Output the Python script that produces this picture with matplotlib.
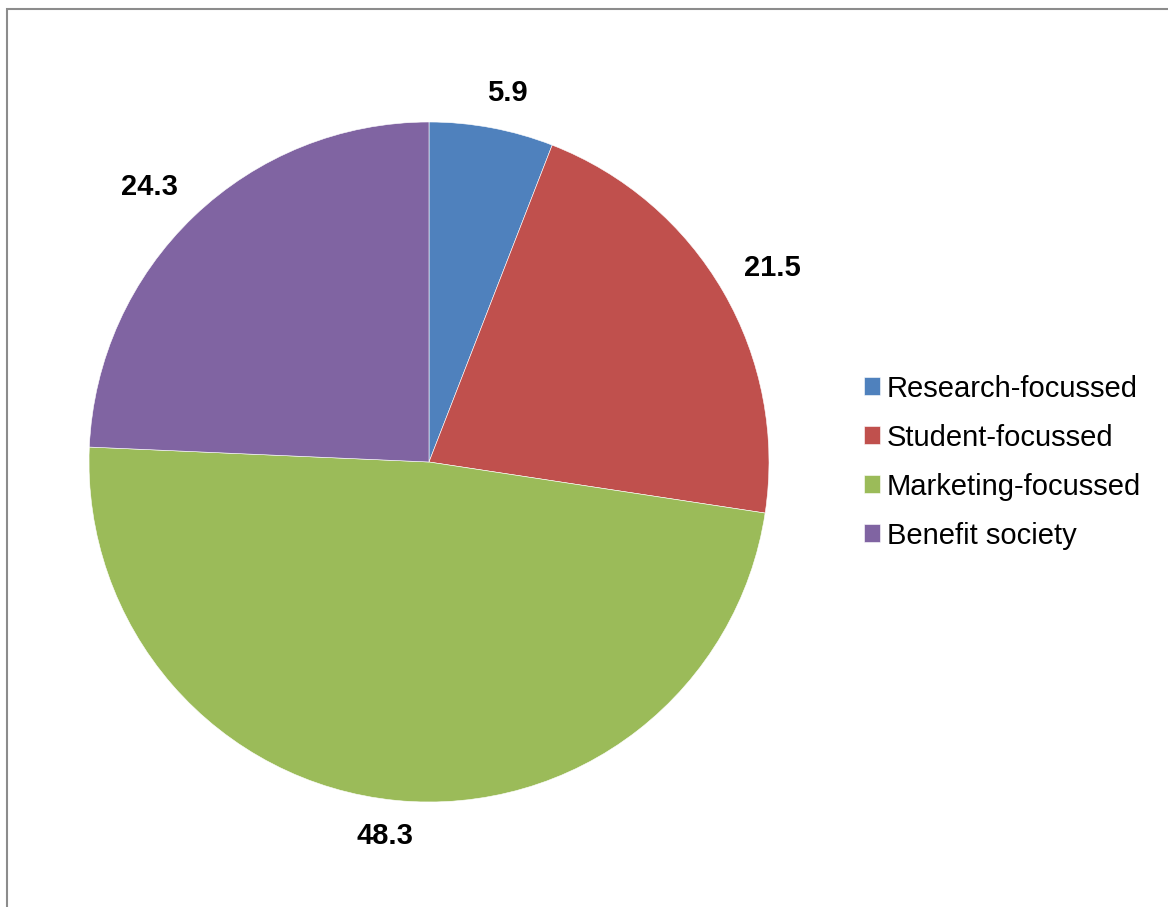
import matplotlib

matplotlib.use("Agg")

import matplotlib.pyplot as plt
import numpy as np
from matplotlib.patches import Rectangle

categories = ["Research-focussed", "Student-focussed", "Marketing-focussed", "Benefit society"]
values = [5.9, 21.5, 48.3, 24.3]
colors = ["#4F81BD", "#C0504D", "#9BBB59", "#8064A2"]

plt.rcParams["font.family"] = ["Liberation Sans", "DejaVu Sans"]

W, H = 1168, 907
fig = plt.figure(figsize=(W / 100, H / 100), dpi=100)

# chart-area border (runs off the right and bottom edges)
fig.patches.append(Rectangle((6.5 / W, -0.05), 1.2, 1 - 8.5 / H + 0.05,
                             transform=fig.transFigure, fill=False,
                             edgecolor="#8c8c8c", linewidth=1.5))

ax = fig.add_axes([89 / W, 105 / H, 680 / W, 680 / H])
wedges, _, autotexts = ax.pie(
    values, colors=colors, startangle=90, counterclock=False,
    autopct=lambda p: f"{p:.1f}", pctdistance=1.14,
    wedgeprops=dict(edgecolor="white", linewidth=0.4),
    textprops=dict(fontsize=21, fontweight="bold", color="black"))
ax.set_xlim(-1, 1)
ax.set_ylim(-1, 1)
ax.set_aspect("equal")

# "outside end" labels: box sits just outside the rim along the mid-angle
fig.canvas.draw()
r = fig.canvas.get_renderer()
px_per_unit = ax.transData.transform((1, 0))[0] - ax.transData.transform((0, 0))[0]
gap, hh = 0.07, 0.035
for w, t in zip(wedges, autotexts):
    ang = np.deg2rad((w.theta1 + w.theta2) / 2)
    c, s = np.cos(ang), np.sin(ang)
    hw = t.get_window_extent(r).width / 2 / px_per_unit
    x = (1 + gap) * c + hw * np.clip(3 * c, -1, 1)
    y = (1 + gap) * s + hh * np.clip(3 * s, -1, 1)
    t.set_position((x, y))

fig.legend(wedges, categories, loc="center left",
           bbox_to_anchor=(849 / W, 1 - 462 / H), frameon=False,
           fontsize=21, handlelength=0.55, handleheight=0.55,
           handletextpad=0.25, labelspacing=0.72, borderpad=0)

fig.savefig("out.png", dpi=100)
